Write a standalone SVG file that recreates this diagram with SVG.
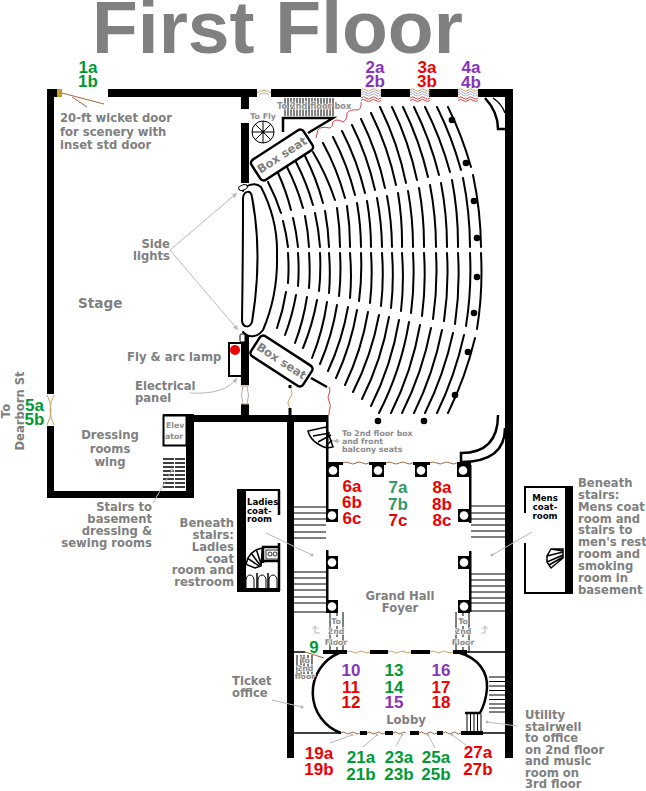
<svg xmlns="http://www.w3.org/2000/svg" xmlns:xlink="http://www.w3.org/1999/xlink" width="646" height="791" viewBox="0 0 646 791">
<style>
.t{font-family:"Liberation Sans",Arial,sans-serif;font-weight:bold;fill:#808080}
.l{font-family:"DejaVu Sans",Verdana,sans-serif;font-weight:bold;font-size:11.6px;fill:#808080}
.s{font-family:"DejaVu Sans",Verdana,sans-serif;font-weight:bold;font-size:7.8px;fill:#8c8c8c}
.h{paint-order:stroke;stroke:#fff;stroke-width:1.2px}
.k{font-family:"DejaVu Sans",Verdana,sans-serif;font-weight:bold;font-size:8.6px;fill:#000}
.n{font-family:"Liberation Sans",Arial,sans-serif;font-weight:bold;font-size:17px;text-anchor:middle}
.g{fill:#009933}.r{fill:#ee0000}.p{fill:#8833bb}.e{fill:#339966}
.m{text-anchor:middle}.e2{text-anchor:end}
.row{fill:none;stroke:#000;stroke-width:2;stroke-linecap:round}
.w{fill:#000}
.b{fill:none;stroke:#000;stroke-width:2.5}
.th{fill:none;stroke:#000;stroke-width:1}
.th2{fill:none;stroke:#000;stroke-width:1.5}
.lead{fill:none;stroke:#b8b8b8;stroke-width:1}
.tan{fill:none;stroke:#c8a060;stroke-width:1}
.blue{fill:none;stroke:#8090d0;stroke-width:.8}
.gr{fill:none;stroke:#999;stroke-width:.8}
.red{fill:none;stroke:#d03030;stroke-width:.9}
.brn{fill:none;stroke:#a06840;stroke-width:1}
</style>
<defs>
<path id="sq" d="M0 0q2.500-2.400 5 0t5 0 5 0 5 0"/>
<g id="door"><use xlink:href="#sq" class="tan" y="90"/><use xlink:href="#sq" class="blue" y="92.500"/><use xlink:href="#sq" class="gr" y="95"/><use xlink:href="#sq" class="red" y="98"/><use xlink:href="#sq" class="red" y="100.500"/></g>
<g id="col"><rect width="12" height="13" fill="#000"/><circle cx="6" cy="6.500" r="4.300" fill="#fff"/></g>
<marker id="ah" markerWidth="6" markerHeight="6" refX="5" refY="2.500" orient="auto"><path d="M0 0L5 2.500 0 5z" fill="#b8b8b8"/></marker>
</defs>

<text class="t" x="92" y="53" font-size="75">First Floor</text>

<g id="walls">
<path class="w" d="M47 89H57V97H54V394H47ZM47 426H54V491H186V414H163V415H186V415H327V422H294V758H287V422H194V498H47ZM108 89H257V97H108ZM271 89H361V97H271ZM381 89H410V97H381ZM429 89H458V97H429ZM478 89H513V758H505V97H478ZM241 97H249V109H241ZM241 123H249V183H241ZM241 335H249V385H241ZM241 404H249V415H241Z"/>
<rect x="57" y="89" width="5" height="8" fill="#c89a30"/>
<rect x="288.500" y="385" width="3" height="3" fill="#000"/>
<rect x="288.500" y="408" width="3" height="7" fill="#000"/>
<path class="w" d="M326 415h2.500v107H326ZM326 550h2.500v62H326ZM469 465h2.500v58H469ZM469 551h2.500v61H469Z"/>
<path class="w" d="M326 462h17v3h-17ZM369 462h17v3h-17ZM413 462h17v3h-17ZM457 462h14v3h-14Z"/>
</g>

<g id="box-rooms">
<path class="b" d="M283 132V118H333L308 133"/>
<g id="box-seat-top" transform="translate(282 155) rotate(-33)"><rect x="-31" y="-12" width="62" height="24" rx="4" fill="#fff" stroke="#000" stroke-width="2.500"/><text class="l m" y="4">Box seat</text></g>
<g id="box-seat-bottom" transform="translate(281.500 361) rotate(33)"><rect x="-31" y="-12" width="62" height="24" rx="4" fill="#fff" stroke="#000" stroke-width="2.500"/><text class="l m" y="4">Box seat</text></g>
<path class="b" d="M311 378L327 387" stroke-width="3"/>
<rect x="229" y="343" width="13" height="33" fill="#fff" stroke="#000" stroke-width="2"/>
<circle cx="235" cy="350" r="5" fill="#ee0000"/>
<rect x="163.500" y="415.500" width="23" height="30" fill="#fff" stroke="#000" stroke-width="2"/>
<path class="w" d="M186 414h8v84h-8Z"/>
</g>

<g id="seating">
<path class="row" d="M268 182A208 208 0 0 1 281 213M283 221A208 208 0 0 1 288 247M288 253A208 208 0 0 1 288 283M286 292A208 208 0 0 1 277 328"/>
<path class="row" d="M278 173A217 217 0 0 1 291 210M293 218A217 217 0 0 1 298 247M298 253A217 217 0 0 1 298 286M296 295A217 217 0 0 1 285 335"/>
<path class="row" d="M287 167A225 225 0 0 1 303 208M305 216A225 225 0 0 1 309 247M309 253A225 225 0 0 1 309 288M307 297A225 225 0 0 1 295 343"/>
<path class="row" d="M296 162A234 234 0 0 1 313 205M315 213A234 234 0 0 1 320 247M320 253A234 234 0 0 1 319 291M317 300A234 234 0 0 1 303 348"/>
<path class="row" d="M305 156A242 242 0 0 1 323 203M325 211A242 242 0 0 1 329 247M329 253A242 242 0 0 1 329 293M327 302A242 242 0 0 1 312 358"/>
<path class="row" d="M313 152A251 251 0 0 1 335 200M337 208A251 251 0 0 1 340 247M340 253A251 251 0 0 1 339 296M337 305A251 251 0 0 1 320 364"/>
<path class="row" d="M323 143A259 259 0 0 1 345 198M347 206A259 259 0 0 1 350 247M350 253A259 259 0 0 1 350 298M348 307A259 259 0 0 1 328 371"/>
<path class="row" d="M333 137A268 268 0 0 1 355 195M357 203A268 268 0 0 1 361 247M361 253A268 268 0 0 1 359 301M357 310A268 268 0 0 1 336 378"/>
<path class="row" d="M342 131A276 276 0 0 1 365 193M367 201A276 276 0 0 1 371 247M371 253A276 276 0 0 1 370 303M368 312A276 276 0 0 1 345 385"/>
<path class="row" d="M352 125A285 285 0 0 1 375 190M377 198A285 285 0 0 1 382 247M382 253A285 285 0 0 1 381 306M379 315A285 285 0 0 1 353 392"/>
<path class="row" d="M361 119A293 293 0 0 1 385 188M387 196A293 293 0 0 1 392 247M392 253A293 293 0 0 1 391 308M389 317A293 293 0 0 1 362 399"/>
<path class="row" d="M371 113A302 302 0 0 1 396 185M398 193A302 302 0 0 1 402 247M402 253A302 302 0 0 1 401 311M399 320A302 302 0 0 1 371 406"/>
<path class="row" d="M380 107A310 310 0 0 1 406 183M408 191A310 310 0 0 1 413 247M413 253A310 310 0 0 1 411 313M409 322A310 310 0 0 1 379 413"/>
<path class="row" d="M392 107A319 319 0 0 1 417 180M419 188A319 319 0 0 1 424 247M424 253A319 319 0 0 1 422 316M420 325A319 319 0 0 1 391 413"/>
<path class="row" d="M403 107A327 327 0 0 1 428 177M430 185A327 327 0 0 1 436 247M436 253A327 327 0 0 1 433 319M431 328A327 327 0 0 1 402 413"/>
<path class="row" d="M414 107A336 336 0 0 1 439 175M441 183A336 336 0 0 1 447 247M447 253A336 336 0 0 1 444 321M442 330A336 336 0 0 1 414 413"/>
<path class="row" d="M425 107A344 344 0 0 1 450 172M452 180A344 344 0 0 1 458 247M458 253A344 344 0 0 1 455 324M453 333A344 344 0 0 1 425 413"/>
<path class="row" d="M437 107A353 353 0 0 1 461 170M463 178A353 353 0 0 1 470 247M470 253A353 353 0 0 1 466 326M464 335A353 353 0 0 1 437 413"/>
<path class="row" d="M448 107A361 361 0 0 1 471 167M473 175A361 361 0 0 1 481 247M481 253A361 361 0 0 1 477 329M475 338A361 361 0 0 1 448 413"/>
<path class="row" d="M243 191C244 186 255 181 261 187Q278 220 277 255Q278 295 263 330C257 338 248 338 243 332"/>
<path class="row" d="M243 198C244 190 251 190 252 197Q263 255 252 322C250 328 243 328 242 321Q243 255 243 198Z"/>
<ellipse cx="243" cy="187.500" rx="4.500" ry="2.500" fill="#fff" stroke="#000" transform="rotate(-20 243 187.500)"/>
<rect x="240" y="334" width="5" height="8" rx="1.500" fill="#fff" stroke="#000"/>
</g>

<g id="balcony-columns" fill="#000">
<circle cx="452" cy="120" r="3.300"/><circle cx="466" cy="163" r="3.300"/><circle cx="474" cy="201" r="3.300"/><circle cx="477" cy="238" r="3.300"/><circle cx="477" cy="277" r="3.300"/><circle cx="474" cy="313" r="3.300"/><circle cx="468" cy="352" r="3.300"/><circle cx="455" cy="395" r="3.300"/><circle cx="424" cy="421" r="3.300"/><circle cx="378" cy="421" r="3.300"/>
</g>

<g id="corner-curves">
<path class="b" d="M485 98Q498 112 498 129H505"/><path class="th2" d="M493 98Q502 104 505 113"/>
<path class="b" d="M498 415Q498 453 461 453V462Q505 462 505 428"/>
</g>

<g id="stairs">
<path class="th" d="M285 98V116M288 98V116M291 98V116M294 98V116M297 98V116M300 98V116M303 98V116M306 98V116M309 98V116M312 98V116M315 98V116M318 98V116M321 98V116M324 98V116M327 98V116M330 98V116M333 98V116"/>
<circle cx="263" cy="132" r="11" fill="#fff" stroke="#000"/>
<path class="th" d="M252 132H274M263 121V143M255 124L271 140M255 140L271 124"/><circle cx="263" cy="132" r="1.500"/>
<path class="th2" d="M163 459H174M163 463H174M163 467H174M163 471H174M163 475H174M163 479H174M163 483H174M163 487H174M175 459H185M175 463H185M175 467H185M175 471H185M175 475H185M175 479H185M175 483H185M175 487H185"/>
<path class="th" d="M294 507H326M294 513H326M294 519H326M294 525H326M294 532H326M294 538H326M294 572H326M294 578H326M294 584H326M294 590H326M294 597H326M294 603H326M294 612H326M471 506H505M471 513H505M471 519H505M471 525H505M471 531H505M471 537H505M471 574H505M471 580H505M471 586H505M471 592H505M471 598H505M471 603H505M471 611H505"/>
<path class="th2" fill="#fff" d="M326 427L308 431Q311 443 327 448L333 447ZM330 433L313 436M331 435L318 442M332 440L326 446"/>
<path class="th" d="M330 612V652M343 612V652M456 612V652M469 612V652"/>
<path class="th" stroke-dasharray="4 3" d="M337 612V652M463 612V652"/>
<path class="th" d="M297 655V678M301 655V678M304 655V678M308 655V678M312 655V678"/>
<path class="th" d="M489 677H505M489 681.500H505M489 686H505M489 690.500H505M489 695H505M489 699.500H505M489 704H505M489 708H505M489 712H505M467 714V732M470.500 714V732M474 714V732M477.500 714V732M481 714V732"/>
</g>

<g id="foyer-columns">
<use xlink:href="#col" x="327" y="464"/><use xlink:href="#col" x="372" y="464"/><use xlink:href="#col" x="415" y="464"/><use xlink:href="#col" x="457" y="464"/>
<use xlink:href="#col" x="326" y="509"/><use xlink:href="#col" x="326" y="556"/><use xlink:href="#col" x="326" y="600"/>
<use xlink:href="#col" x="458" y="509"/><use xlink:href="#col" x="458" y="556"/><use xlink:href="#col" x="458" y="600"/>
</g>

<g id="ladies-room">
<path class="w" d="M237 489h43v2h-34v97h34v4h-43Z"/>
<path class="b" d="M279 490V515M279 543V591" stroke-width="2"/>
<text class="k" x="247" y="505">Ladies</text><text class="k" x="247" y="514">coat-</text><text class="k" x="247" y="522">room</text>
<path class="th2" d="M261 566L262.400 548L256.400 549.700L251.300 553.300L247.700 558.400L246.100 564.400L255 568ZM261 564L256.400 549.700M260 565L251.300 553.300M259 566L247.700 558.400"/>
<path class="b" d="M263 563V547H280M264 561H279" stroke-width="2"/>
<rect x="266" y="550" width="13" height="9" fill="none" stroke="#000" stroke-width=".8"/>
<circle cx="270" cy="554" r="2" fill="none" stroke="#000" stroke-width=".8"/><circle cx="275" cy="554" r="2" fill="none" stroke="#000" stroke-width=".8"/>
<path class="th" d="M246 590V580A4 5 0 0 1 254 580V590M258 590V580A4 5 0 0 1 266 580V590M269 590V580A4 5 0 0 1 277 580V590"/>
<path class="th2" d="M257 573V590M268 573V590"/>
</g>

<g id="mens-room">
<path class="w" d="M524 486h49v108h-49v-51h2v49h39V488h-39v25h-2Z"/>
<text class="k m" x="545" y="501">Mens</text><text class="k m" x="545" y="510">coat-</text><text class="k m" x="545" y="519">room</text>
<path class="th2" d="M563 549L551 549L547 556L547 562L551 568L563 558ZM563 552L547 556M563 555L547 562M563 557L549 565M551 549L563 551"/>
</g>

<g id="lobby">
<path class="b" d="M339 653A43 43 0 0 0 341 733M460 653C478 658 488 672 487 688Q486 702 480 713H465"/>
<path class="th2" d="M294 652H305M467 652H505M294 733H341M480 733H505"/>
<path class="w" d="M323 650h24v4h-24ZM370 650h18v4h-18ZM411 650h19v4h-19ZM453 650h14v4h-14ZM360 731h7v4h-7ZM385 731h8v4h-8ZM410 731h9v4h-9ZM437 731h6v4h-6ZM461 731h22v4h-22Z"/>
</g>

<g id="connectors">
<use xlink:href="#door" x="361"/><use xlink:href="#door" x="410"/><use xlink:href="#door" x="458"/>
<path class="tan" d="M257 93Q264 88 271 93"/><path class="gr" d="M259 95Q264 91 269 95"/>
<path class="tan" d="M47 395Q55 410 47 425M54 395Q46 410 54 425"/>
<path class="gr" d="M243 386Q240 395 243 404M247 386Q250 395 247 404"/>
<path class="tan" d="M241 386H249M241 404H249"/>
<path class="tan" d="M290 388Q294 393 290 398T290 408"/>
<path class="red" d="M329 387Q331 391 329 394T329 401T330 408T329 415"/>
<path class="red" d="M361 102Q362 108 358 110Q350 109 347 113Q347 120 343 122Q336 118 333 122Q333 127 330 128Q320 126 318 130Q317 134 316 138"/>
<path class="brn" d="M343 463q3-2 6.500 0t6.500 0 6.500 0 6.500 0M386 463q3-2 6.700 0t6.700 0 6.700 0 6.700 0M430 463q3-2 6.700 0t6.700 0 6.700 0 6.700 0"/>
<path class="tan" d="M347 652q3-2 5.700 0t5.700 0 5.700 0 5.700 0M388 652q3-2 5.700 0t5.700 0 5.700 0 5.700 0M430 652q3-2 5.700 0t5.700 0 5.700 0 5.700 0"/>
<path class="brn" d="M341 733q3-2 4.700 0t4.700 0 4.700 0 4.700 0M367 733q3-2 4.500 0t4.500 0 4.500 0 4.500 0M393 733q3-2 4.300 0t4.300 0 4.300 0M419 733q3-2 4.500 0t4.500 0 4.500 0 4.500 0M443 733q3-2 4.500 0t4.500 0 4.500 0 4.500 0"/>
<path class="brn" d="M62 93L104 104M72 97L87 107M305 652L324 658"/>
<path class="lead" marker-end="url(#ah)" d="M170 250L237 193"/>
<path class="lead" marker-end="url(#ah)" d="M170 250L238 330"/>
<path class="lead" marker-end="url(#ah)" d="M190 393Q225 395 237 378"/>
<path class="lead" d="M153 503L172 470M266 533L312 555M532 532L492 555M272 700L302 707M517 726L487 722M330 743L352 735M363 747L377 735M396 746L402 735M435 748L428 735M466 745L452 735"/>
<circle cx="172" cy="470" r="1.500" fill="#b8b8b8"/><circle cx="312" cy="555" r="1.500" fill="#b8b8b8"/><circle cx="492" cy="555" r="1.500" fill="#b8b8b8"/><circle cx="302" cy="707" r="1.500" fill="#b8b8b8"/><circle cx="487" cy="722" r="1.500" fill="#b8b8b8"/>
<circle cx="352" cy="735" r="1.200" fill="#b8b8b8"/><circle cx="377" cy="735" r="1.200" fill="#b8b8b8"/><circle cx="402" cy="735" r="1.200" fill="#b8b8b8"/><circle cx="428" cy="735" r="1.200" fill="#b8b8b8"/><circle cx="452" cy="735" r="1.200" fill="#b8b8b8"/>
<path class="lead" marker-end="url(#ah)" d="M340 441H333"/>
<path class="lead" d="M320 633H315V627M312.500 629L315 626L317.500 629M481 633H485V627M482.500 629L485 626L487.500 629"/>
</g>

<g id="labels">
<text class="l" x="60" y="122">20-ft wicket door</text><text class="l" x="60" y="136">for scenery with</text><text class="l" x="60" y="149">inset std door</text>
<text class="s m" x="263" y="119">To Fly</text>
<text class="s h" x="277" y="109" style="font-size:8.2px">To 2nd floor box</text>
<text class="l e2" x="170" y="248">Side</text><text class="l e2" x="170" y="260">lights</text>
<text class="l" x="78" y="308" style="font-size:13.6px">Stage</text>
<text class="l" x="127" y="361">Fly &amp; arc lamp</text>
<text class="l" x="135" y="390">Electrical</text><text class="l" x="135" y="402">panel</text>
<text class="l m" transform="translate(10 411) rotate(-90)">To</text><text class="l m" transform="translate(24 411) rotate(-90)">Dearborn St</text>
<text class="s" x="166" y="428">Elev</text><text class="s" x="165" y="439">ator</text>
<text class="l m" x="110" y="439">Dressing</text><text class="l m" x="110" y="453">rooms</text><text class="l m" x="110" y="466">wing</text>
<text class="l e2" x="152" y="511">Stairs to</text><text class="l e2" x="152" y="523">basement</text><text class="l e2" x="152" y="535">dressing &amp;</text><text class="l e2" x="152" y="547">sewing rooms</text>
<text class="s" x="342" y="436">To 2nd floor box</text><text class="s" x="342" y="444">and front</text><text class="s" x="342" y="452">balcony seats</text>
<text class="l e2" x="234" y="527">Beneath</text><text class="l e2" x="234" y="539">stairs:</text><text class="l e2" x="234" y="551">Ladies</text><text class="l e2" x="234" y="563">coat</text><text class="l e2" x="234" y="574">room and</text><text class="l e2" x="234" y="586">restroom</text>
<text class="l" x="578" y="487">Beneath</text><text class="l" x="578" y="499">stairs:</text><text class="l" x="578" y="511">Mens coat</text><text class="l" x="578" y="523">room and</text><text class="l" x="578" y="534">stairs to</text><text class="l" x="578" y="546">men's rest</text><text class="l" x="578" y="558">room and</text><text class="l" x="578" y="570">smoking</text><text class="l" x="578" y="582">room in</text><text class="l" x="578" y="594">basement</text>
<text class="l m" x="400" y="600">Grand Hall</text><text class="l m" x="400" y="612">Foyer</text>
<text class="s m h" x="336" y="624">To</text><text class="s m h" x="336" y="634">2nd</text><text class="s m h" x="336" y="645">Floor</text>
<text class="s m h" x="463" y="624">To</text><text class="s m h" x="463" y="634">2nd</text><text class="s m h" x="463" y="645">Floor</text>
<text class="s m h" x="305" y="663">To</text><text class="s m h" x="305" y="671">2nd</text><text class="s m h" x="305" y="679">floor</text>
<text class="l" x="232" y="685">Ticket</text><text class="l" x="232" y="697">office</text>
<text class="l m" x="406" y="724">Lobby</text>
<text class="l" x="525" y="719">Utility</text><text class="l" x="525" y="730.500">stairwell</text><text class="l" x="525" y="742">to office</text><text class="l" x="525" y="753.500">on 2nd floor</text><text class="l" x="525" y="765">and music</text><text class="l" x="525" y="776.500">room on</text><text class="l" x="525" y="788">3rd floor</text>
</g>

<g id="numbers">
<text class="n g" x="88" y="73">1a</text><text class="n g" x="88" y="87">1b</text>
<text class="n p" x="375" y="73">2a</text><text class="n p" x="375" y="87">2b</text>
<text class="n r" x="427" y="73">3a</text><text class="n r" x="427" y="87">3b</text>
<text class="n p" x="471" y="73">4a</text><text class="n p" x="471" y="88">4b</text>
<text class="n g" x="34.500" y="411">5a</text><text class="n g" x="34.500" y="425">5b</text>
<text class="n r" x="352" y="492">6a</text><text class="n r" x="352" y="508">6b</text><text class="n r" x="352" y="524">6c</text>
<text class="n e" x="398" y="493">7a</text><text class="n e" x="398" y="510">7b</text><text class="n r" x="398" y="526">7c</text>
<text class="n r" x="442" y="493">8a</text><text class="n r" x="442" y="510">8b</text><text class="n r" x="442" y="526">8c</text>
<text class="n g" x="314" y="653">9</text>
<text class="n p" x="351" y="676">10</text><text class="n r" x="351" y="693">11</text><text class="n r" x="351" y="708">12</text>
<text class="n g" x="394" y="676">13</text><text class="n g" x="394" y="693">14</text><text class="n p" x="394" y="708">15</text>
<text class="n p" x="441" y="676">16</text><text class="n r" x="441" y="693">17</text><text class="n r" x="441" y="708">18</text>
<text class="n r" x="319" y="759">19a</text><text class="n r" x="319" y="775">19b</text>
<text class="n g" x="361" y="763">21a</text><text class="n g" x="361" y="780">21b</text>
<text class="n g" x="399" y="763">23a</text><text class="n g" x="399" y="780">23b</text>
<text class="n g" x="436" y="763">25a</text><text class="n g" x="436" y="780">25b</text>
<text class="n r" x="478" y="758">27a</text><text class="n r" x="478" y="775">27b</text>
</g>
</svg>
